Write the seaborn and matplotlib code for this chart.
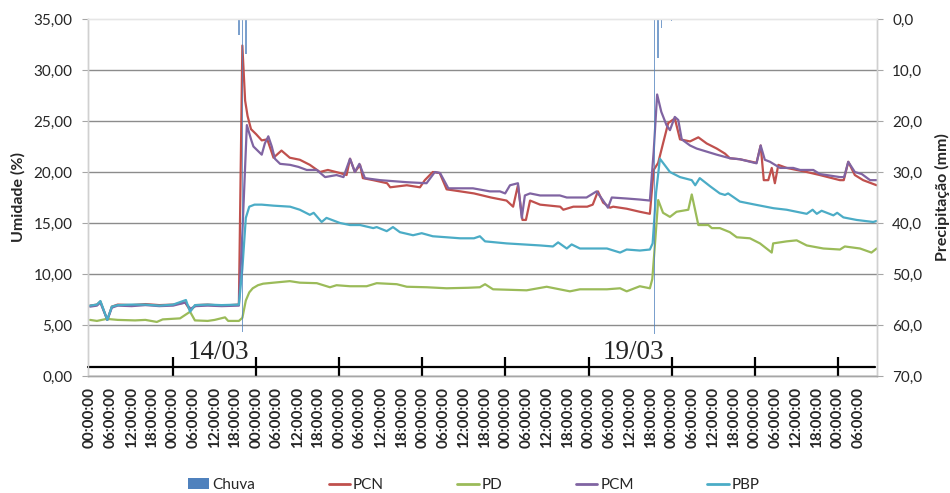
import numpy as np
import pandas as pd
import matplotlib
matplotlib.use("Agg")
import matplotlib.pyplot as plt
import seaborn as sns
from matplotlib.patches import Patch
from matplotlib.lines import Line2D
from matplotlib.ticker import FuncFormatter

# ---------------- data (hours since 13/03 00:00) ----------------
t_pcn = [0, 2, 3, 5, 6.3, 8, 12, 16, 20, 24, 27.5, 29, 30.5, 34, 38, 43,
         44, 44.8, 45.5, 46.5, 48, 49.6, 51.2, 53, 55.3, 57.7, 60.6, 63.5, 66.4, 68.7, 72.2, 74.1,
         75.1, 76.5, 78, 78.8, 81.8, 85.8, 86.7, 91.5, 95.3, 96.7, 99.0, 101, 103, 105, 110.9, 115.8,
         120.3, 122.2, 123.6, 124.9, 125.9, 127.1, 130, 135.8, 136.7, 139.6, 143.6, 145.2, 146.7,
         148.2, 150.2, 151.1, 155, 158.8, 161.7,
         162.8, 164.1, 165.5, 167, 168.9, 170.4, 173.3, 175.7, 178.1, 181, 183.4, 184.8, 187.7,
         192.5, 193.7, 194.6, 195.9, 196.9, 197.8, 198.8, 201.2, 207, 210.8, 216.6, 217.7, 219,
         220.9, 223.3, 227.2]
pcn = [6.9, 7.0, 7.3, 5.5, 6.8, 7.0, 6.95, 7.05, 6.95, 7.0, 7.2, 6.4, 6.95, 7.0, 6.9, 7.0,
       32.4, 27.0, 25.5, 24.2, 23.7, 23.1, 23.2, 21.4, 22.1, 21.4, 21.2, 20.7, 20.0, 20.2, 19.9, 19.7,
       21.3, 20.0, 20.7, 19.4, 19.2, 18.9, 18.5, 18.7, 18.5, 19.2, 20.0, 19.9, 18.3, 18.2, 17.9, 17.5,
       17.2, 16.6, 18.7, 15.3, 15.3, 17.2, 16.8, 16.6, 16.3, 16.6, 16.6, 16.8, 18.1,
       17.0, 16.5, 16.6, 16.4, 16.1, 15.9,
       20.2, 20.9, 22.8, 24.8, 25.25, 23.2, 23.0, 23.4, 22.8, 22.3, 21.8, 21.35, 21.25,
       20.9, 22.6, 19.2, 19.2, 20.4, 18.9, 20.7, 20.4, 20.0, 19.7, 19.2, 19.2, 21.0,
       19.7, 19.2, 18.7]

t_pd = [0, 2, 4.8, 8, 13, 16, 19.3, 21, 26, 28.9, 30.3, 34, 36, 39, 39.9, 43,
        44, 45, 46, 47, 48.5, 50, 53, 57.7, 60.6, 65.5, 69.3, 71.2, 75.1, 79.9, 82.8, 88.6, 91.5,
        97.3, 103, 109.2, 112.6, 114.1, 116.4, 126.1, 131.9, 138.6, 141.5, 149.3, 153.1, 155,
        158.8, 161.7,
        162.4, 163.3, 164.1, 165.5, 167.5, 169.4, 172.8, 173.8, 175.7, 178.6, 179.6, 181.9, 184.8,
        186.8, 190.6, 193.5, 196.9, 197.3, 201.2, 204.1, 207, 211.8, 216.6, 218, 222.4, 225.7, 227.2]
pd_vals = [5.5, 5.4, 5.6, 5.5, 5.45, 5.5, 5.3, 5.55, 5.65, 6.3, 5.45, 5.4, 5.5, 5.75, 5.4, 5.4,
           5.7, 7.4, 8.2, 8.6, 8.9, 9.05, 9.15, 9.3, 9.15, 9.1, 8.7, 8.9, 8.8, 8.8, 9.1, 9.0, 8.75,
           8.7, 8.6, 8.65, 8.7, 9.0, 8.5, 8.4, 8.75, 8.3, 8.5, 8.5, 8.6, 8.3,
           8.8, 8.6,
           9.5, 13.5, 17.25, 16.0, 15.6, 16.1, 16.3, 17.8, 14.8, 14.8, 14.5, 14.5, 14.1,
           13.6, 13.5, 13.0, 12.1, 13.0, 13.2, 13.3, 12.8, 12.5, 12.4, 12.7, 12.5, 12.1, 12.5]

t_pcm = [0, 2, 3, 5, 6.3, 8, 12, 16, 20, 24, 27.5, 29, 30.5, 34, 38, 43,
         44, 45.3, 46.6, 47.2, 49.6, 50.5, 51.5, 52.5, 53.4, 54.9, 57.8, 60.2, 62.6, 65.5, 67.9,
         71.2, 73.2, 75.1, 76.5, 77.8, 79.4, 83.8, 91.5, 97.2, 99.6, 101.1, 103.5, 106.9, 110.6,
         115.5, 118.4, 119.9, 121.3, 123.6, 124.7, 125.6, 127.1, 130, 135.7, 137.7, 143.4, 146.3,
         148.2, 149.6, 150.7, 155, 158.8, 161.7,
         162.8, 163.8, 165.0, 166.5, 167.5, 168.9, 169.9, 170.9, 173.3, 175.2, 178.1, 181, 184.8,
         187.7, 192.5, 193.7, 194.9, 196.4, 199.3, 203.1, 205.1, 208.9, 210.8, 216.6, 217.8, 219,
         220.9, 222.9, 225.3, 227.2]
pcm = [6.8, 6.9, 7.2, 5.5, 6.7, 6.9, 6.85, 6.95, 6.85, 6.9, 7.2, 6.6, 6.85, 6.9, 6.85, 6.9,
       14.0, 24.6, 23.1, 22.5, 21.7, 22.8, 23.5, 22.5, 21.3, 20.8, 20.7, 20.5, 20.2, 20.2, 19.5,
       19.7, 19.5, 21.3, 20.0, 20.8, 19.4, 19.2, 19.0, 18.9, 20.0, 19.9, 18.4, 18.4, 18.4,
       18.1, 18.1, 17.9, 18.7, 18.9, 15.5, 17.7, 17.9, 17.7, 17.7, 17.5, 17.5, 18.1,
       17.2, 16.5, 17.5, 17.4, 17.3, 17.2,
       22.0, 27.6, 25.9, 24.6, 24.1, 25.4, 25.1, 23.2, 22.6, 22.3, 22.0, 21.7, 21.35,
       21.25, 20.85, 22.6, 21.2, 21.0, 20.4, 20.4, 20.2, 20.2, 19.8, 19.5, 19.5, 21.0,
       20.0, 19.8, 19.2, 19.2]

t_pbp = [0, 2, 3, 5, 6.3, 8, 12, 16, 20, 24, 27.7, 28.9, 30.3, 34, 38, 43,
         44, 45, 46, 47.5, 49.6, 53, 57.8, 60.6, 63.5, 64.6, 66.9, 68.3, 72.2, 75.1, 78, 81.8,
         82.8, 85.7, 87.5, 89.5, 93.3, 95.8, 99.0, 103, 106.9, 110.9, 112.6, 114.1, 120.3, 130,
         133.7, 135.2, 137.7, 139.1, 141.5, 149.3, 153.1, 155, 158.8, 161.7,
         162.5, 163.5, 164.6, 167.5, 170.4, 173.8, 174.8, 176.1, 179.1, 181.9, 183.4, 184.3,
         187.7, 192.1, 197.4, 201.2, 207, 208.7, 209.9, 211.3, 214.7, 215.8, 217.6, 221.4,
         226.2, 227.2]
pbp = [6.9, 7.0, 7.35, 5.5, 6.8, 6.95, 7.0, 7.0, 6.9, 7.0, 7.45, 6.3, 6.95, 7.0, 6.95, 7.0,
       10.5, 15.5, 16.6, 16.8, 16.8, 16.7, 16.6, 16.3, 15.8, 16.0, 15.1, 15.5, 15.0, 14.8, 14.8, 14.5,
       14.6, 14.2, 14.6, 14.1, 13.8, 14.0, 13.7, 13.6, 13.5, 13.5, 13.7, 13.2, 13.0, 12.8,
       12.7, 13.1, 12.5, 12.9, 12.5, 12.5, 12.1, 12.4, 12.3, 12.4,
       13.0, 18.0, 21.3, 20.0, 19.5, 19.2, 18.7, 19.4, 18.6, 17.9, 17.75, 17.9,
       17.1, 16.8, 16.45, 16.3, 15.9, 16.3, 15.9, 16.2, 15.75, 16.0, 15.55, 15.3,
       15.1, 15.2]

chuva_h = [43, 44, 45, 163, 164, 165, 168]
chuva_mm = [3.1, 61.3, 6.9, 61.7, 7.7, 1.8, 0.4]

series_names = ["PCN", "PD", "PCM", "PBP"]
series_colors = ["#C0504D", "#9BBB59", "#8064A2", "#4BACC6"]
chuva_color = "#4F81BD"

tick_hours = list(range(0, 223, 6))
tick_labels = [f"{h % 24:02d}:00:00" for h in tick_hours]
day_ticks = list(range(24, 217, 24))
date_labels = ["14/03", "19/03"]
date_hours = [37.0, 156.8]

# ---------------- figure ----------------
sns.set_style("white")
plt.rcParams['font.family'] = ['Lato', 'DejaVu Sans']

fig = plt.figure(figsize=(9.5, 4.93), dpi=100)
ax = fig.add_axes([88 / 950, 1 - 376 / 493, 789 / 950, 357 / 493])
ax2 = ax.twinx()

frames = []
for name, t, v in zip(series_names, [t_pcn, t_pd, t_pcm, t_pbp], [pcn, pd_vals, pcm, pbp]):
    frames.append(pd.DataFrame({"hora": t, "umidade": v, "serie": name}))
df = pd.concat(frames, ignore_index=True)

sns.lineplot(data=df, x="hora", y="umidade", hue="serie", hue_order=series_names,
             palette=dict(zip(series_names, series_colors)), estimator=None,
             linewidth=1.6, ax=ax, legend=False)

ax2.bar(chuva_h, chuva_mm, width=0.42, color=chuva_color, alpha=0.75,
        align="center", linewidth=0)

ax.set_xlim(-0.58, 227.3)
ax.set_ylim(0, 35)
ax2.set_ylim(70, 0)

ax.set_yticks(np.arange(0, 35.01, 5))
ax.yaxis.set_major_formatter(FuncFormatter(lambda v, p: f"{v:.2f}".replace(".", ",")))
ax2.set_yticks(np.arange(0, 70.01, 10))
ax2.yaxis.set_major_formatter(FuncFormatter(lambda v, p: f"{v:.1f}".replace(".", ",")))

ax.set_xticks(tick_hours)
ax.set_xticklabels(tick_labels, rotation=90, fontweight="bold", fontsize=11)
ax.tick_params(axis="x", length=0, pad=8)
ax.tick_params(axis="y", length=4, width=0.8, color="#A6A6A6", labelsize=11, pad=7,
               left=True)
ax2.tick_params(axis="y", length=4, width=0.8, color="#A6A6A6", labelsize=11, pad=7,
                right=True)

ax.yaxis.grid(True, color="#8C8C8C", linewidth=1.0)
ax.xaxis.grid(False)
ax.set_axisbelow(True)
ax.get_ygridlines()[-1].set_visible(False)

for a in (ax, ax2):
    a.spines["left"].set_color("#D0D0D0")
    a.spines["right"].set_color("#D0D0D0")
    a.spines["top"].set_color("#E6E6E6")
    a.spines["bottom"].set_color("#A6A6A6")
    for s in a.spines.values():
        s.set_linewidth(1.0)

ax.set_xlabel("")
ax.set_ylabel("Umidade (%)", fontweight="bold", fontsize=11.5)
ax.yaxis.set_label_coords(-0.079, 0.5)
ax2.set_ylabel("Precipitação (mm)", fontweight="bold", fontsize=11.5)
ax2.yaxis.set_label_coords(1.0735, 0.5)

# category axis line with day ticks
ax.plot([-0.58, 226.8], [0.85, 0.85], color="black", linewidth=1.6, clip_on=False, zorder=3)
ax.vlines(day_ticks, 0.0, 1.85, color="black", linewidth=1.6, zorder=3)

for lab, h in zip(date_labels, date_hours):
    ax.text(h, 2.3, lab, fontfamily=["Liberation Serif"], fontsize=19.5,
            ha="center", va="center", zorder=4)

handles = [Patch(facecolor=chuva_color, edgecolor="none")] + \
          [Line2D([], [], color=c, linewidth=2) for c in series_colors]
labels = ["Chuva"] + series_names
fig.legend(handles, labels, loc="center left", bbox_to_anchor=(188 / 950, 1 - 485 / 493),
           ncol=5, frameon=False, fontsize=11, handlelength=1.4, handletextpad=0.2,
           columnspacing=4.8, borderpad=0, borderaxespad=0)

fig.savefig("out.png", dpi=100)
